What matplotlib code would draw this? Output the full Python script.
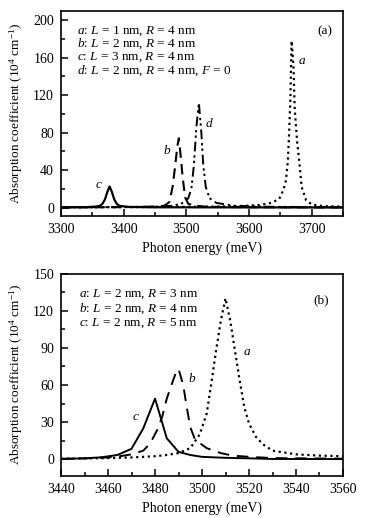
#!/usr/bin/env python3
"""Absorption coefficient vs photon energy, two panels."""

import matplotlib

matplotlib.use("Agg")
import matplotlib.pyplot as plt
from matplotlib.ticker import MultipleLocator

plt.rcParams["font.family"] = ["Liberation Serif", "DejaVu Serif"]
plt.rcParams["mathtext.fontset"] = "custom"
plt.rcParams["mathtext.rm"] = "Liberation Serif"
plt.rcParams["mathtext.it"] = "Liberation Serif:italic"
plt.rcParams["font.size"] = 9

# panel (a): different L, R = 4 nm
a1_e = [3300, 3400, 3500, 3550, 3600, 3620, 3635, 3648, 3655, 3659, 3662, 3664,
        3666, 3668, 3671, 3673, 3677, 3681, 3684, 3691, 3701, 3720, 3750]
a1_y = [0.3, 0.5, 0.8, 1, 2, 3, 5, 9, 19, 29, 50, 79,
        115, 178, 151, 104, 69, 44, 22, 8, 3, 1.5, 1]
b1_e = [3300, 3400, 3450, 3465, 3473, 3478, 3482, 3485.5, 3488, 3490.5, 3494,
        3498, 3503, 3515, 3530, 3560, 3600, 3750]
b1_y = [0.2, 0.5, 1, 2, 6, 22, 43.6, 65, 74, 58, 33, 11, 4, 2, 1, 0.6, 0.4, 0.2]
c1_e = [3300, 3340, 3355, 3362, 3366, 3370, 3374, 3377.5, 3381, 3385, 3389,
        3393, 3410, 3450, 3750]
c1_y = [0.2, 0.5, 1, 1.8, 4, 8.5, 17, 22.5, 17, 8.5, 4, 1.8, 0.6, 0.3, 0.1]
d1_e = [3300, 3400, 3450, 3480, 3495, 3503, 3508, 3512, 3516, 3520, 3524, 3527,
        3531, 3537, 3548, 3575, 3620, 3700, 3750]
d1_y = [0.2, 0.5, 1, 2, 5, 10, 20, 45, 86, 112, 79, 45, 22, 10, 5, 2, 1, 0.5, 0.3]
labels1 = [
    "$a$: $L$ = 1 nm, $R$ = 4 nm",
    "$b$: $L$ = 2 nm, $R$ = 4 nm",
    "$c$: $L$ = 3 nm, $R$ = 4 nm",
    "$d$: $L$ = 2 nm, $R$ = 4 nm, $F$ = 0",
]

# panel (b): L = 2 nm, different R
a2_e = [3440, 3460, 3470, 3480, 3485, 3490, 3495, 3499, 3502, 3504, 3506, 3508,
        3510, 3512, 3514, 3516, 3518, 3520, 3523, 3526, 3530, 3540, 3550, 3560]
a2_y = [0.5, 1, 1.5, 2.5, 3.5, 5, 9, 20, 37, 62, 88, 112,
        130, 112, 88, 64, 42, 29, 18, 12, 7, 4, 3, 2.5]
b2_e = [3440, 3450, 3460, 3465, 3470, 3475, 3478, 3481, 3483, 3485, 3487, 3488.5,
        3490, 3492, 3493.5, 3495, 3497, 3502, 3508, 3513, 3520, 3530, 3560]
b2_y = [0.3, 0.8, 1.5, 2.5, 4, 7, 13, 24, 34, 49, 60, 68,
        73, 60, 42, 26, 16, 9, 5, 3, 2, 1, 0.5]
c2_e = [3440, 3450, 3457, 3464, 3470, 3475, 3480, 3485, 3490, 3495, 3500, 3510,
        3520, 3530, 3560]
c2_y = [0.3, 0.8, 1.6, 3.5, 8.5, 25, 49, 17, 6, 3.5, 2, 1.2, 0.8, 0.3, 0.2]
labels2 = [
    "$a$: $L$ = 2 nm, $R$ = 3 nm",
    "$b$: $L$ = 2 nm, $R$ = 4 nm",
    "$c$: $L$ = 2 nm, $R$ = 5 nm",
]

YLABEL = "Absorption coefficient (10$^4$ cm$^{-1}$)"
XLABEL = "Photon energy (meV)"

DOT = (0, (1, 1.6))
DASH = (0, (5, 3))
DASHDOTDOT = (0, (5, 2, 1.2, 1.6, 1.2, 2))


def style_axes(ax):
    for side in ax.spines.values():
        side.set_linewidth(1.2)
    ax.tick_params(which="both", direction="in", top=False, right=False,
                   width=1.1, labelsize=10)
    ax.tick_params(which="major", length=5, pad=5)
    ax.tick_params(which="minor", length=3)
    ax.set_xlabel(XLABEL, fontsize=10, labelpad=4)
    ax.set_ylabel(YLABEL, fontsize=9.5, labelpad=6)


fig = plt.figure(figsize=(3.7, 5.18), dpi=100)

ax1 = fig.add_axes([0.165, 0.583, 0.762, 0.396])
ax1.plot(c1_e, c1_y, color="black", lw=1.6, ls="-")
ax1.plot(a1_e, a1_y, color="black", lw=1.6, ls=DOT)
ax1.plot(b1_e, b1_y, color="black", lw=1.5, ls=DASH)
ax1.plot(d1_e, d1_y, color="black", lw=1.4, ls=DASHDOTDOT)
ax1.set_xlim(3300, 3750)
ax1.set_ylim(-9, 210)
ax1.xaxis.set_major_locator(MultipleLocator(100))
ax1.xaxis.set_minor_locator(MultipleLocator(50))
ax1.yaxis.set_major_locator(MultipleLocator(40))
ax1.yaxis.set_minor_locator(MultipleLocator(20))
style_axes(ax1)
for i, txt in enumerate(labels1):
    ax1.text(0.056, 0.902 - 0.064 * i, txt, transform=ax1.transAxes,
             ha="left", va="center", fontsize=9.5)
ax1.text(0.936, 0.902, "(a)", transform=ax1.transAxes, ha="center",
         va="center", fontsize=9.5)
ax1.text(3684, 156, "$a$", ha="center", va="center", fontsize=9.5)
ax1.text(3470, 61, "$b$", ha="center", va="center", fontsize=9.5)
ax1.text(3360, 24, "$c$", ha="center", va="center", fontsize=9.5)
ax1.text(3537, 90, "$d$", ha="center", va="center", fontsize=9.5)

ax2 = fig.add_axes([0.165, 0.081, 0.762, 0.391])
ax2.plot(c2_e, c2_y, color="black", lw=1.4, ls="-")
ax2.plot(a2_e, a2_y, color="black", lw=1.6, ls=DOT)
ax2.plot(b2_e, b2_y, color="black", lw=1.4, ls=(0, (6, 4)))
ax2.set_xlim(3440, 3560)
ax2.set_ylim(-13.5, 150)
ax2.xaxis.set_major_locator(MultipleLocator(20))
ax2.xaxis.set_minor_locator(MultipleLocator(10))
ax2.yaxis.set_major_locator(MultipleLocator(30))
ax2.yaxis.set_minor_locator(MultipleLocator(15))
style_axes(ax2)
for i, txt in enumerate(labels2):
    ax2.text(0.064, 0.898 - 0.071 * i, txt, transform=ax2.transAxes,
             ha="left", va="center", fontsize=9.5)
ax2.text(0.922, 0.868, "(b)", transform=ax2.transAxes, ha="center",
         va="center", fontsize=9.5)
ax2.text(3519, 87, "$a$", ha="center", va="center", fontsize=9.5)
ax2.text(3495.6, 65, "$b$", ha="center", va="center", fontsize=9.5)
ax2.text(3472, 34, "$c$", ha="center", va="center", fontsize=9.5)

fig.savefig("out.png", dpi=100)
